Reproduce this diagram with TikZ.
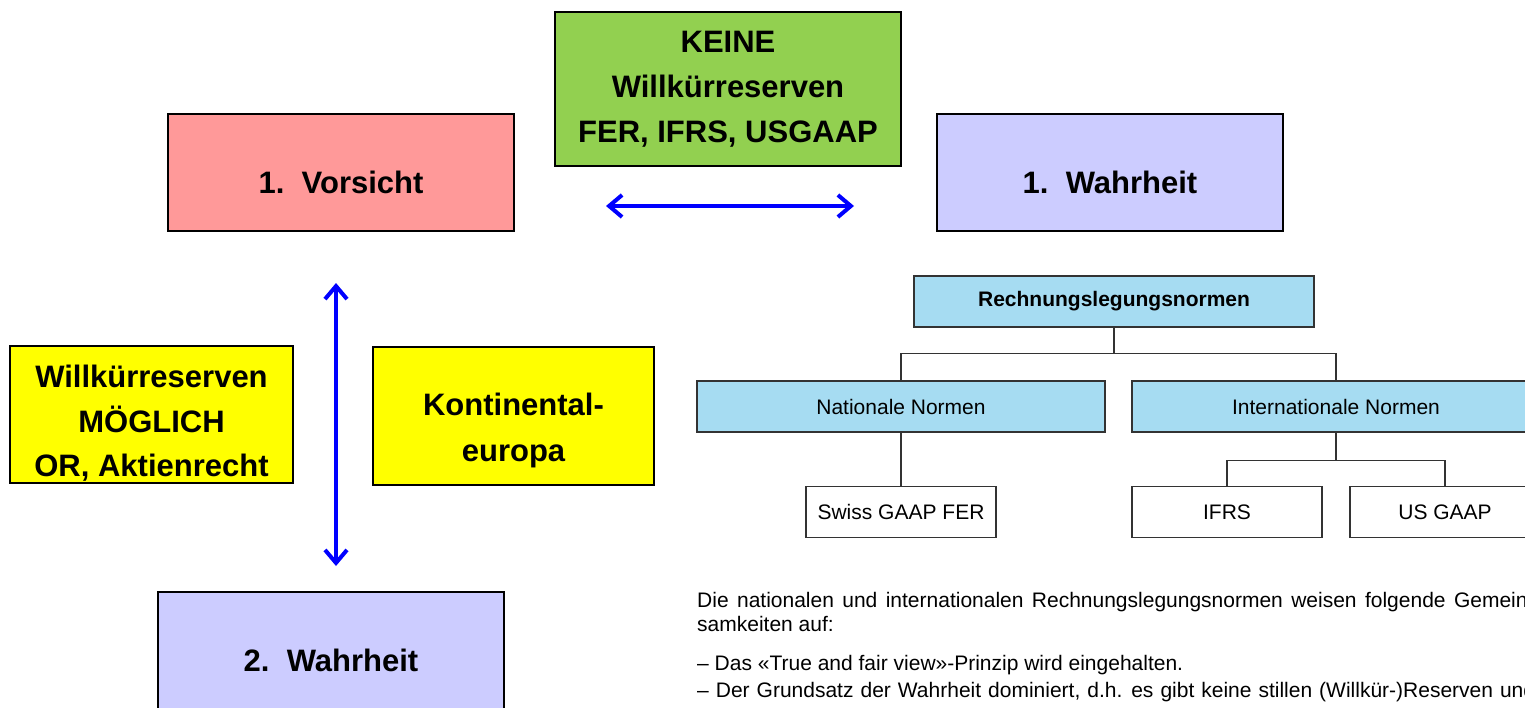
\documentclass[tikz,border=0pt]{standalone}
\usepackage{fontspec}
\setmainfont{Liberation Sans}
\usetikzlibrary{arrows.meta}
\definecolor{pinkbox}{HTML}{FF9999}
\definecolor{greenbox}{HTML}{92D050}
\definecolor{lavbox}{HTML}{CCCCFF}
\definecolor{yellowbox}{HTML}{FFFF00}
\definecolor{orgblue}{HTML}{A6DCF2}
\definecolor{orgline}{HTML}{333333}
% centred lines, drawn a little below the middle of their box
\newcommand\lowlines[2]{\raisebox{-#1}[\height][\depth]{\begin{tabular}{@{}c@{}}#2\end{tabular}}}
\begin{document}
\begin{tikzpicture}[x=1pt,y=-1pt,
  bigbox/.style={draw=black,line width=2pt,rectangle,inner sep=0pt,
    font=\fontsize{31}{45}\selectfont\bfseries,align=center},
  onelinebox/.style={bigbox,text height=42pt,text depth=0pt},
  orgbox/.style={draw=orgline,line width=1.3pt,rectangle,inner sep=0pt,
    minimum height=51pt,font=\fontsize{21}{25}\selectfont},
  orgconn/.style={draw=orgline,line width=1.3pt},
  dblarrow/.style={draw=blue,line width=4pt,
    {Straight Barb[length=13pt,width=22pt,line width=4pt]}-{Straight Barb[length=13pt,width=22pt,line width=4pt]}},
  bodytext/.style={anchor=base west,inner sep=0pt,font=\fontsize{21}{25}\selectfont}]
\useasboundingbox (0,0) rectangle (1525,707);
\clip (0,0) rectangle (1525,707);

% upper comparison: Vorsicht vs. Wahrheit
\node[onelinebox,fill=pinkbox,minimum width=346pt,minimum height=117pt] (vors) at (341,172.5) {1.\ \ Vorsicht};
\node[bigbox,fill=greenbox,minimum width=346pt,minimum height=154pt] (keine) at (728,89) {KEINE\\Willkürreserven\\FER, IFRS, USGAAP};
\node[onelinebox,fill=lavbox,minimum width=346pt,minimum height=117pt] (wahr1) at (1110,172.5) {1.\ \ Wahrheit};

\coordinate (hleft) at (606,206);
\coordinate (hright) at (854,206);
\draw[dblarrow] (hleft) -- (hright);

% lower comparison: Vorsicht vs. Wahrheit as second principle
\coordinate (vtop) at (336,283);
\coordinate (vbot) at (336,566);
\draw[dblarrow] (vtop) -- (vbot);

\node[bigbox,fill=yellowbox,minimum width=283pt,minimum height=137pt,font=\fontsize{31}{44.5}\selectfont\bfseries] (moegl) at (151.5,414.5) {\lowlines{9pt}{Willkürreserven\\MÖGLICH\\OR, Aktienrecht}};
\node[bigbox,fill=yellowbox,minimum width=281pt,minimum height=138pt,font=\fontsize{31}{46}\selectfont\bfseries] (konti) at (513.5,416) {\lowlines{13pt}{Kontinental-\\europa}};
\node[onelinebox,fill=lavbox,minimum width=346pt,minimum height=117pt] (wahr2) at (331,650.5) {2.\ \ Wahrheit};

% organisation chart of the accounting standards
\node[orgbox,fill=orgblue,minimum width=400pt,font=\fontsize{21}{25}\selectfont\bfseries] (rln) at (1114,301.5) {Rechnungslegungsnormen};
\node[orgbox,fill=orgblue,minimum width=408pt] (nat) at (901,406.5) {Nationale Normen};
\node[orgbox,fill=orgblue,minimum width=408pt] (intl) at (1336,406.5) {Internationale Normen};
\node[orgbox,fill=white,minimum width=190pt] (swiss) at (901,512) {Swiss GAAP FER};
\node[orgbox,fill=white,minimum width=190pt] (ifrs) at (1227,512) {IFRS};
\node[orgbox,fill=white,minimum width=190pt] (usgaap) at (1445,512) {US GAAP};

\draw[orgconn] (rln.south) -- ++(0,26) -| (nat.north);
\draw[orgconn] (rln.south) ++(0,26) -| (intl.north);
\draw[orgconn] (nat.south) -- (swiss.north);
\draw[orgconn] (intl.south) -- ++(0,28) -| (ifrs.north);
\draw[orgconn] (intl.south) ++(0,28) -| (usgaap.north);

% explanatory text below the chart (justified lines run on past the edge)
\node[bodytext] (t1) at (697,607) {\spaceskip=8.4pt plus 1pt Die nationalen und internationalen Rechnungslegungsnormen weisen folgende Gemein-};
\node[bodytext] (t2) at (697,631) {samkeiten auf:};
\node[bodytext] (t3) at (697,670) {– Das «True and fair view»-Prinzip wird eingehalten.};
\node[bodytext] (t4) at (697,697) {\spaceskip=7pt plus 1pt – Der Grundsatz der Wahrheit dominiert, d.h. es gibt keine stillen (Willkür-)Reserven und};
\end{tikzpicture}
\end{document}
